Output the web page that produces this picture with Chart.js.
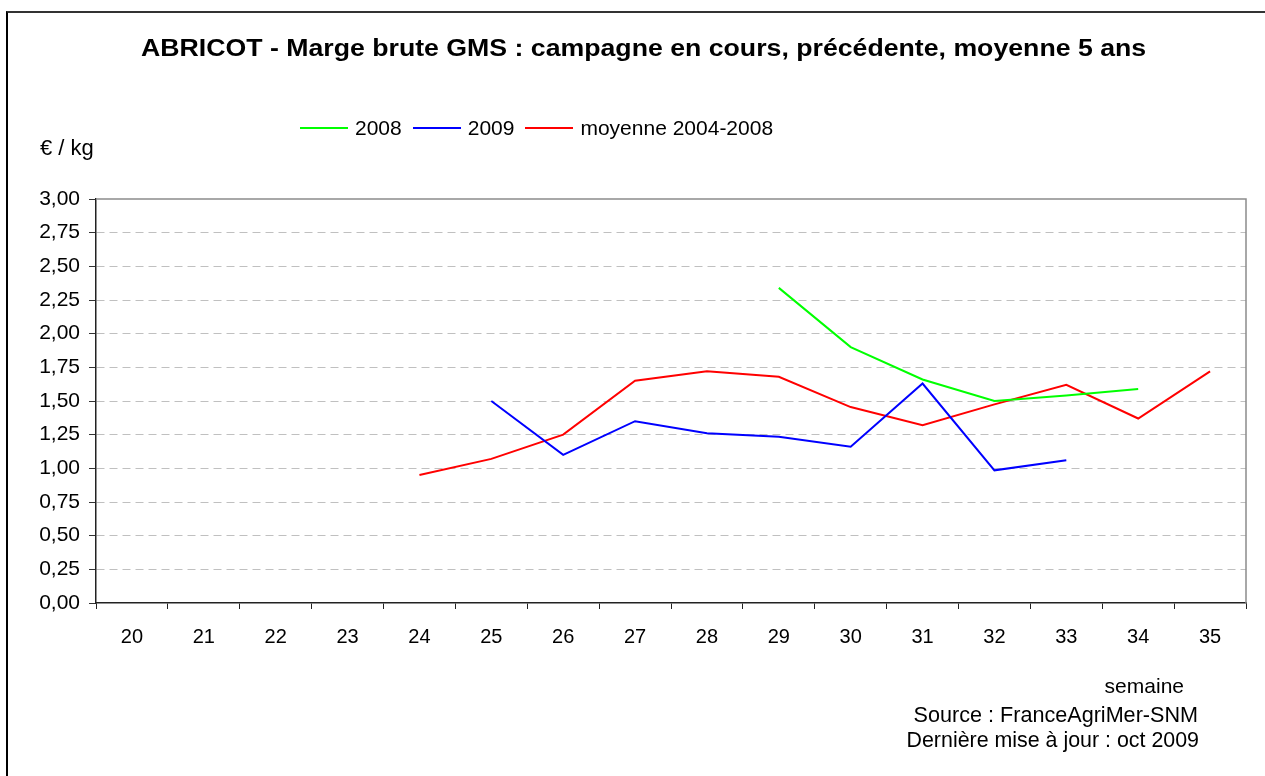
<!DOCTYPE html>
<html>
<head>
<meta charset="utf-8">
<script src="https://cdn.jsdelivr.net/npm/chart.js@4.4.1/dist/chart.umd.min.js"></script>
<style>
  html, body { margin: 0; padding: 0; background: #fff; overflow: hidden; }
  body { width: 1265px; height: 776px; position: relative; font-family: "Liberation Sans", Arial, sans-serif; color: #000; }
  #frame { position: absolute; left: 6px; top: 11px; width: 1400px; height: 900px; border-left: 2px solid #000; border-top: 2px solid #333; }
  #c { position: absolute; left: 0; top: 0; }
  .t { position: absolute; white-space: nowrap; line-height: 1; }
  #title { top: 37px; left: 0; width: 1287px; text-align: center; font-weight: bold; font-size: 23px; transform: scaleX(1.16); transform-origin: 643px 50%; }
  #unit { left: 40px; top: 137px; font-size: 22px; }
  #legend { position: absolute; left: 300px; top: 117px; display: flex; align-items: center; font-size: 21px; line-height: 1; }
  #legend .item { display: flex; align-items: center; margin-right: 11px; }
  #legend .ln { width: 48px; height: 2px; margin-right: 7px; }
  #semaine { right: 81px; top: 675px; font-size: 21px; }
  #source { right: 67px; top: 704px; font-size: 21.6px; }
  #maj { right: 66px; top: 730px; font-size: 21.4px; }
</style>
</head>
<body>
<div id="frame"></div>
<canvas id="c" width="1265" height="776"></canvas>
<div class="t" id="title">ABRICOT - Marge brute GMS : campagne en cours, précédente, moyenne 5 ans</div>
<div id="legend"></div>
<div class="t" id="unit">€ / kg</div>
<div class="t" id="semaine">semaine</div>
<div class="t" id="source">Source : FranceAgriMer-SNM</div>
<div class="t" id="maj">Dernière mise à jour : oct 2009</div>
<script>
const weeks = ['20','21','22','23','24','25','26','27','28','29','30','31','32','33','34','35'];
const yTickLabels = ['0,00','0,25','0,50','0,75','1,00','1,25','1,50','1,75','2,00','2,25','2,50','2,75','3,00'];
const seriesNames = ['2008', '2009', 'moyenne 2004-2008'];
const seriesColors = ['#00ff00', '#0000ff', '#ff0000'];
const values2008 = [null, null, null, null, null, null, null, null, null, 2.34, 1.90, 1.66, 1.50, 1.54, 1.59, null];
const values2009 = [null, null, null, null, null, 1.50, 1.10, 1.35, 1.26, 1.235, 1.16, 1.63, 0.985, 1.06, null, null];
const valuesAvg  = [null, null, null, null, 0.95, 1.07, 1.25, 1.65, 1.72, 1.68, 1.455, 1.32, 1.475, 1.62, 1.37, 1.72];
const allSeries = [values2008, values2009, valuesAvg];

// HTML legend built from the series arrays
const legendEl = document.getElementById('legend');
seriesNames.forEach((name, i) => {
  const item = document.createElement('div');
  item.className = 'item';
  const ln = document.createElement('div');
  ln.className = 'ln';
  ln.style.background = seriesColors[i];
  const tx = document.createElement('span');
  tx.textContent = name;
  item.appendChild(ln); item.appendChild(tx);
  legendEl.appendChild(item);
});

const plotFrame = {
  id: 'plotFrame',
  afterDraw(chart) {
    const {ctx, chartArea: a} = chart;
    ctx.save();
    ctx.strokeStyle = '#8c8c8c';
    ctx.lineWidth = 1.5;
    ctx.beginPath();
    ctx.moveTo(a.left, a.top);
    ctx.lineTo(a.right, a.top);
    ctx.lineTo(a.right, a.bottom);
    ctx.stroke();
    ctx.restore();
  }
};

new Chart(document.getElementById('c'), {
  type: 'line',
  data: {
    labels: weeks,
    datasets: allSeries.map((vals, i) => ({
      label: seriesNames[i],
      data: vals,
      borderColor: seriesColors[i],
      backgroundColor: seriesColors[i],
      borderWidth: 2,
      pointRadius: 0,
      pointHoverRadius: 0,
      tension: 0,
      fill: false,
      spanGaps: false
    }))
  },
  options: {
    responsive: false,
    animation: false,
    events: [],
    layout: { padding: { top: 199, right: 19, bottom: 0, left: 0 } },
    plugins: { legend: { display: false }, title: { display: false }, tooltip: { enabled: false } },
    scales: {
      x: {
        type: 'category',
        offset: true,
        afterFit(scale) { scale.height = 173; },
        grid: { display: true, drawOnChartArea: false, drawTicks: true, tickLength: 6, offset: true, color: '#000', tickColor: '#222', lineWidth: 1 },
        border: { display: true, color: '#222', width: 1.5 },
        ticks: { color: '#000', font: { family: 'Liberation Sans', size: 20 }, padding: 16, maxRotation: 0, autoSkip: false }
      },
      y: {
        min: 0,
        max: 3,
        afterFit(scale) { scale.width = 96; },
        afterBuildTicks(scale) {
          scale.ticks = yTickLabels.map((_, i) => ({ value: i * 0.25 }));
        },
        grid: {
          drawTicks: true,
          tickLength: 7,
          color: (ctx) => (ctx.tick && (ctx.tick.value === 0 || ctx.tick.value === 3)) ? 'rgba(0,0,0,0)' : '#c0c0c0',
          tickColor: '#333',
          lineWidth: 1
        },
        border: { display: true, color: '#222', width: 1.5, dash: [8, 5] },
        ticks: {
          color: '#000',
          font: { family: 'Liberation Sans', size: 21 },
          padding: 9,
          callback: (value, index) => yTickLabels[index]
        }
      }
    }
  },
  plugins: [plotFrame]
});
</script>
</body>
</html>
